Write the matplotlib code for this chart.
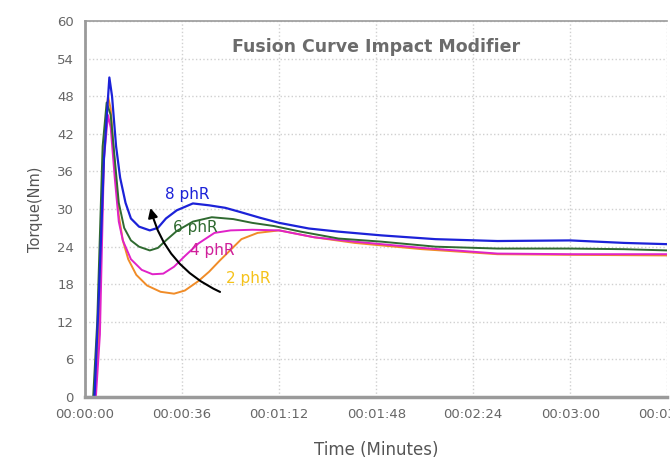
import matplotlib
matplotlib.use("Agg")
import matplotlib.pyplot as plt

# time in seconds, torque in Nm
t_8 = [0, 3.5, 5, 7, 9, 10, 11.5, 13, 15, 17, 20, 24, 27, 30, 34, 40, 46, 52, 57, 65, 72, 83, 94, 110, 130, 153, 180, 200, 216]
q_8 = [0, 0, 15, 38, 51, 48, 40, 35, 31, 28.5, 27.2, 26.6, 27, 28.5, 29.8, 30.9, 30.6, 30.2, 29.6, 28.6, 27.8, 26.9, 26.4, 25.8, 25.2, 24.9, 25.0, 24.6, 24.4]

t_6 = [0, 3, 4.5, 6.5, 8, 9.5, 11, 12.5, 14.5, 17, 20, 24, 27, 30, 34, 40, 47, 55, 62, 70, 80, 94, 110, 130, 153, 180, 200, 216]
q_6 = [0, 0, 12, 40, 47, 45, 38, 31, 27, 25, 24, 23.4, 23.8, 25, 26.5, 28, 28.7, 28.4, 27.8, 27.3, 26.4, 25.3, 24.8, 24, 23.7, 23.7, 23.6, 23.4]

t_4 = [0, 4, 5.5, 7, 8.5, 9.5, 11, 12.5, 14, 17, 21, 25, 29, 33, 37, 42, 48, 54, 62, 72, 85, 100, 125, 153, 180, 216]
q_4 = [0, 0, 10, 38, 45, 43, 35, 28, 25, 22, 20.3, 19.6, 19.7, 20.8, 22.5, 24.5, 26.2, 26.6, 26.7, 26.6, 25.5, 24.8, 23.8, 22.9, 22.8, 22.8]

t_2 = [0, 3.5, 5, 7, 8.5, 9.5, 11, 12.5, 14, 16, 19, 23, 28, 33, 37, 42, 46, 50, 54, 58, 64, 72, 85, 100, 125, 153, 180, 216]
q_2 = [0, 0, 10, 40, 48, 46, 37, 29, 25, 22, 19.5, 17.8, 16.8, 16.5, 17, 18.5, 20, 21.8, 23.5, 25.2, 26.2, 26.6, 25.5, 24.6, 23.6, 22.8, 22.7, 22.6]

x_ticks = [0, 36, 72, 108, 144, 180, 216]
x_labels = ["00:00:00", "00:00:36", "00:01:12", "00:01:48", "00:02:24", "00:03:00", "00:03:36"]
y_ticks = [0, 6, 12, 18, 24, 30, 36, 42, 48, 54, 60]

fig = plt.figure(figsize=(6.7, 4.58), dpi=100)
ax = fig.add_axes([0.127, 0.133, 0.869, 0.821])

ax.plot(t_2, q_2, color="#f08c28", lw=1.4)
ax.plot(t_4, q_4, color="#e022c8", lw=1.4)
ax.plot(t_6, q_6, color="#2f6a30", lw=1.4)
ax.plot(t_8, q_8, color="#1c22d8", lw=1.6)

ax.set_xlim(0, 216)
ax.set_ylim(0, 60)
ax.set_xticks(x_ticks)
ax.set_xticklabels(x_labels)
ax.set_yticks(y_ticks)
ax.tick_params(length=0, labelsize=9.5, colors="#666666", pad=8)
ax.grid(True, color="#d0d0d0", linestyle=":", lw=1)

for s in ["left", "bottom", "top"]:
    ax.spines[s].set_color("#9a9a9a")
ax.spines["left"].set_linewidth(2)
ax.spines["bottom"].set_linewidth(2.5)
ax.spines["top"].set_linewidth(1.2)
ax.spines["right"].set_visible(False)

ax.text(0.5, 0.955, "Fusion Curve Impact Modifier", transform=ax.transAxes, ha="center", va="top",
        fontsize=12.5, fontweight="bold", color="#6b6b6b")

ax.text(37.8, 32.3, "8 phR", color="#1c22d8", fontsize=11, ha="center", va="center")
ax.text(41, 27.0, "6 phR", color="#2f6a30", fontsize=11, ha="center", va="center")
ax.text(47, 23.4, "4 phR", color="#d0209a", fontsize=11, ha="center", va="center")
ax.text(60.5, 18.9, "2 phR", color="#f5c21a", fontsize=11, ha="center", va="center")

ax.annotate("", xy=(24, 30.6), xytext=(51, 16.6),
            arrowprops=dict(arrowstyle="-|>", color="black", lw=1.5,
                            connectionstyle="arc3,rad=-0.25", mutation_scale=14))

ax.set_ylabel("Torque(Nm)", fontsize=10.5, color="#555555", labelpad=10)
ax.set_xlabel("Time (Minutes)", fontsize=12, color="#555555", labelpad=14)

fig.savefig("out.png", dpi=100)
